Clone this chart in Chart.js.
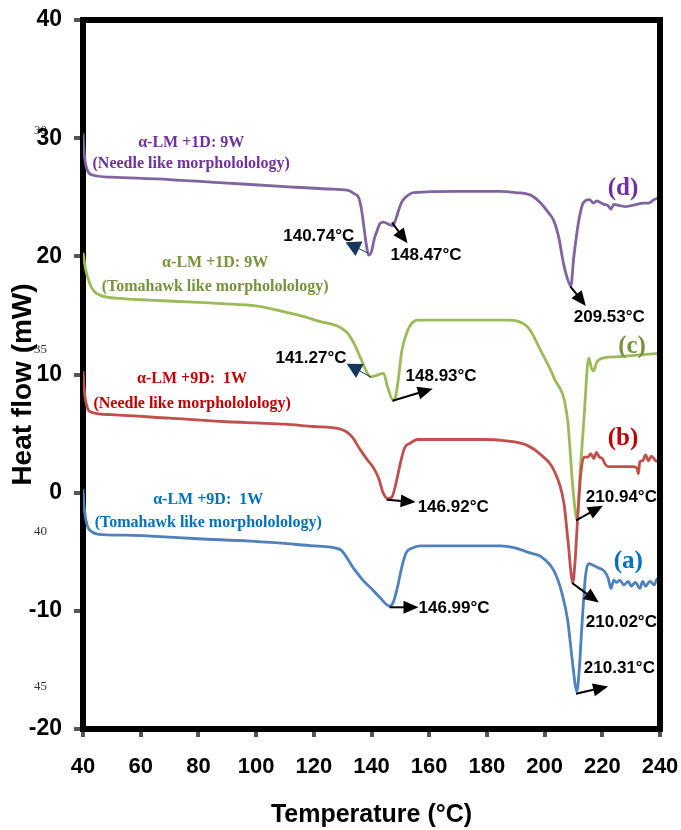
<!DOCTYPE html>
<html>
<head>
<meta charset="utf-8">
<script src="https://cdn.jsdelivr.net/npm/chart.js@4.4.1/dist/chart.umd.min.js"></script>
<style>
html,body{margin:0;padding:0;background:#fff;}
#wrap{width:681px;height:830px;}
</style>
</head>
<body>
<div id="wrap"><canvas id="c" width="681" height="830"></canvas></div>
<script>
// ---- data ----
const xTicks = [40,60,80,100,120,140,160,180,200,220,240];
const yTicks = [-20,-10,0,10,20,30,40];

// (d) purple
const tempD = [40,40.5,41.5,43,50,70,90,110,125,131.6,134,135.5,136.5,137.2,138.2,139,140,141,142,143,144.2,146,147.3,148.5,149.4,150.5,151.8,154.6,170,184,190,195,198.7,201,203.2,205,206.3,207.8,209.1,210.1,211.2,211.9,213.3,215.5,217,218,219,220.5,222,223,224,226,228,230,232,234,236,238,240];
const heatD = [30.4,28.5,27.3,26.9,26.7,26.5,26.2,25.9,25.7,25.6,25.3,25.0,24.0,22.8,21.0,20.1,20.4,21.5,22.2,22.8,22.9,22.7,22.6,23.2,23.9,24.6,25.0,25.4,25.5,25.5,25.4,25.2,24.5,23.8,23.0,21.5,19.7,18.2,17.5,19.9,22.0,23.1,24.5,24.8,24.5,24.7,24.6,24.4,24.3,24.0,24.4,24.3,24.2,24.3,24.4,24.5,24.5,24.8,25.0];

// (c) green
const tempC = [40,41,42.5,44,46,55,63,80,88,100,108,115,122,129,131.7,134,136.2,138.6,139.7,141.4,144.2,145.5,147.6,148.5,149.5,150.5,152.5,154.2,156,170,187,194.2,198.7,203.2,208,209.8,211.2,212.4,213.6,215.3,216.2,217,218,220.5,225,230,235,240];
const heatC = [20.3,18.8,17.6,17.0,16.7,16.4,16.3,16.1,16.0,15.8,15.4,15.0,14.5,14.0,13.5,12.6,11.4,10.1,9.8,9.9,10.1,9.0,7.8,8.3,10.0,12.0,13.7,14.4,14.6,14.6,14.6,14.0,12.0,9.75,6.1,0.4,-2.2,2.0,6.1,11.4,10.6,10.3,11.0,11.4,11.5,11.6,11.7,11.8];

// (b) red
const tempB = [40,40.5,41.5,43,50,70,90,100,110,120,129,133,136.2,138.5,140.7,142.5,144,145.6,147,148.5,150,151.5,153.5,156,179,186,194,198.7,203.2,206.7,208,209.8,210.5,211.5,212.5,213.6,215,216,217,218,219,220,221,222,226,230,232,232.5,233,234,235,236,237,238.5,240];
const heatB = [10.3,8.5,7.2,6.8,6.6,6.3,6.0,5.9,5.8,5.6,5.4,4.8,3.6,2.8,2.1,1.2,0.0,-0.5,-0.4,0.8,2.5,3.8,4.2,4.5,4.5,4.4,4.0,3.2,1.9,-0.9,-3.8,-7.6,-6.0,-2.0,1.5,3.0,3.0,3.3,2.9,3.4,3.0,2.9,2.4,2.2,2.2,2.2,2.1,1.6,2.6,2.7,3.2,2.7,3.1,2.7,2.6];

// (a) blue
const tempA = [40,40.5,41.5,43,45,55,65,80,98,110,120,129,133.8,137,140.7,143,146.3,147.5,149,150.5,152,154,157,170,184.8,190,195,198.7,203.2,206,208,209.5,211.2,212,213,214.2,215.3,216.5,218,220.5,222,223,224,225,226,227.5,229,230,231.5,233,234,235,236.5,238,239,240];
const heatA = [0.3,-1.5,-2.8,-3.3,-3.5,-3.6,-3.7,-3.9,-4.1,-4.3,-4.5,-4.8,-6.4,-7.4,-8.3,-8.9,-9.6,-9.3,-8.0,-6.3,-5.1,-4.7,-4.5,-4.5,-4.5,-4.7,-5.1,-5.4,-6.6,-8.5,-10.8,-14.0,-16.8,-15.0,-11.0,-7.0,-6.0,-6.1,-6.3,-6.6,-7.2,-8.1,-7.4,-7.6,-7.4,-7.8,-7.5,-7.9,-7.6,-8.1,-7.5,-7.9,-7.5,-7.8,-7.3,-7.5];

// series labels
const seriesTitles = ['α-LM +9D:  1W','α-LM +9D:  1W','α-LM +1D: 9W','α-LM +1D: 9W'];
const seriesMorph = ['(Tomahawk like morphololology)','(Needle like morphololology)','(Tomahawk like morphololology)','(Needle like morphololology)'];
const seriesTags = ['(a)','(b)','(c)','(d)'];

// peak annotations
const peakTexts = ['140.74°C','148.47°C','209.53°C','141.27°C','148.93°C','146.92°C','210.94°C','146.99°C','210.02°C','210.31°C'];

// stray labels visible in the figure margin
const strayTexts = ['30','35','40','45'];

// ---- layout of annotations (data coordinates) ----
const titlePos = [ // [xCenter, baseline1, baseline2]
  [83.4,-0.93,-2.88],
  [77.8,9.24,7.2],
  [85.8,19.07,17.1],
  [77.5,29.24,27.46]
];
const tagPos = [[229,-6.4],[227.2,4.0],[230.3,11.8],[227.2,25.2]];
const peakPos = [[109.4,21.27],[146.6,19.66],[210.1,14.41],[106.7,11.0],[151.8,9.41],[156.0,-1.6],[214.3,-0.76],[156.3,-10.2],[214.3,-11.4],[213.6,-15.25]];
const arrows = [ // from x,y -> to x,y, navy?
  [138.6,20.3,131.0,21.2,true],
  [147.3,22.8,152.5,21.1,false],
  [209.1,17.4,214.3,15.8,false],
  [139.7,9.8,131.4,10.9,true],
  [147.6,7.8,161.2,8.8,false],
  [145.6,-0.6,155.3,-0.8,false],
  [211.2,-2.3,220.2,-1.1,false],
  [146.6,-9.7,156.3,-9.7,false],
  [209.8,-7.7,218.8,-9.3,false],
  [211.2,-17.0,222.0,-16.4,false]
];
const strayY = [30.6,12.1,-3.3,-16.4];

const lineColors = ['#4F81BD','#C0504D','#9BBB59','#8064A2'];
const textColors = ['#0070C0','#C00000','#77933C','#7030A0'];

const SANS = '"Liberation Sans", Arial, sans-serif';
const SERIF = '"Liberation Serif", "Times New Roman", serif';

function pts(t,h){return t.map((v,i)=>({x:v,y:h[i]}));}

function drawArrow(ctx,x1,y1,x2,y2,color,lw,hl,hw){
  const a=Math.atan2(y2-y1,x2-x1);
  const bx=x2-hl*Math.cos(a), by=y2-hl*Math.sin(a);
  ctx.save();
  ctx.strokeStyle=color; ctx.fillStyle=color; ctx.lineWidth=lw;
  ctx.beginPath(); ctx.moveTo(x1,y1); ctx.lineTo(bx,by); ctx.stroke();
  ctx.beginPath();
  ctx.moveTo(x2,y2);
  ctx.lineTo(bx+hw/2*Math.sin(a), by-hw/2*Math.cos(a));
  ctx.lineTo(bx-hw/2*Math.sin(a), by+hw/2*Math.cos(a));
  ctx.closePath(); ctx.fill();
  ctx.restore();
}

const strayPlugin = {
  id:'stray',
  beforeDraw(chart){
    const {ctx,scales:{y}}=chart;
    ctx.save();
    ctx.font='13px '+SERIF; ctx.fillStyle='#333'; ctx.textAlign='left'; ctx.textBaseline='middle';
    strayTexts.forEach((t,i)=>ctx.fillText(t, y.left+34, y.getPixelForValue(strayY[i])));
    ctx.restore();
  }
};

const annPlugin = {
  id:'ann',
  afterDatasetsDraw(chart){
    const {ctx,chartArea:ca,scales:{x,y}}=chart;
    ctx.save();
    // top and right frame
    ctx.strokeStyle='#000'; ctx.lineWidth=6; ctx.lineCap='square';
    ctx.beginPath(); ctx.moveTo(ca.left,ca.top); ctx.lineTo(ca.right,ca.top); ctx.lineTo(ca.right,ca.bottom); ctx.stroke();
    // y axis title
    ctx.save();
    ctx.translate(y.left+23, (ca.top+ca.bottom)/2+10);
    ctx.rotate(-Math.PI/2);
    ctx.fillStyle='#000'; ctx.font='bold 28px '+SANS; ctx.textAlign='center'; ctx.textBaseline='middle';
    ctx.fillText('Heat flow (mW)',0,0);
    ctx.restore();
    // series labels
    ctx.textAlign='center'; ctx.textBaseline='alphabetic';
    for(let i=0;i<4;i++){
      ctx.fillStyle=textColors[i];
      ctx.font='bold 16px '+SERIF;
      const cx=x.getPixelForValue(titlePos[i][0]);
      ctx.fillText(seriesTitles[i], cx, y.getPixelForValue(titlePos[i][1]));
      ctx.fillText(seriesMorph[i], cx, y.getPixelForValue(titlePos[i][2]));
      ctx.font='bold 25px '+SERIF;
      ctx.fillText(seriesTags[i], x.getPixelForValue(tagPos[i][0]), y.getPixelForValue(tagPos[i][1]));
    }
    // arrows
    arrows.forEach(a=>{
      const x1=x.getPixelForValue(a[0]), y1=y.getPixelForValue(a[1]);
      const x2=x.getPixelForValue(a[2]), y2=y.getPixelForValue(a[3]);
      if(a[4]) drawArrow(ctx,x1,y1,x2,y2,'#17375E',1,15,16);
      else drawArrow(ctx,x1,y1,x2,y2,'#000',2,15,13);
    });
    // peak texts
    ctx.fillStyle='#000'; ctx.font='bold 17px '+SANS; ctx.textAlign='left';
    peakTexts.forEach((t,i)=>ctx.fillText(t, x.getPixelForValue(peakPos[i][0]), y.getPixelForValue(peakPos[i][1])));
    ctx.restore();
  }
};

const ds = [
  {data:pts(tempA,heatA), borderColor:lineColors[0]},
  {data:pts(tempB,heatB), borderColor:lineColors[1]},
  {data:pts(tempC,heatC), borderColor:lineColors[2]},
  {data:pts(tempD,heatD), borderColor:lineColors[3]}
].map(d=>Object.assign(d,{borderWidth:2.8, pointRadius:0, fill:false, cubicInterpolationMode:'monotone'}));

new Chart(document.getElementById('c'),{
  type:'line',
  data:{datasets:ds},
  options:{
    responsive:false, animation:false, parsing:false,
    layout:{padding:{top:20,right:21,left:0,bottom:0}},
    plugins:{legend:{display:false},tooltip:{enabled:false}},
    scales:{
      x:{type:'linear',min:40,max:240,
        afterBuildTicks:s=>{s.ticks=xTicks.map(v=>({value:v}));},
        ticks:{color:'#000',font:{family:SANS,size:22,weight:'bold'},padding:17,maxRotation:0,autoSkip:false},
        grid:{display:true,drawOnChartArea:false,drawTicks:true,tickLength:8,lineWidth:4,color:'#555'},
        border:{display:true,width:6,color:'#000'},
        title:{display:true,text:'Temperature (°C)',color:'#000',font:{family:SANS,size:25,weight:'bold'},padding:{top:0,bottom:0}},
        afterFit:s=>{s.height=101; s.paddingLeft=0; s.paddingRight=0;}
      },
      y:{type:'linear',min:-20,max:40,
        afterBuildTicks:s=>{s.ticks=yTicks.map(v=>({value:v}));},
        ticks:{color:'#000',font:{family:SANS,size:23,weight:'bold'},padding:12,autoSkip:false},
        grid:{display:true,drawOnChartArea:false,drawTicks:true,tickLength:9,lineWidth:4,color:'#555'},
        border:{display:true,width:6,color:'#000'},
        title:{display:false},
        afterFit:s=>{s.width=83; s.paddingTop=0; s.paddingBottom=0;}
      }
    }
  },
  plugins:[strayPlugin,annPlugin]
});
</script>
</body>
</html>
